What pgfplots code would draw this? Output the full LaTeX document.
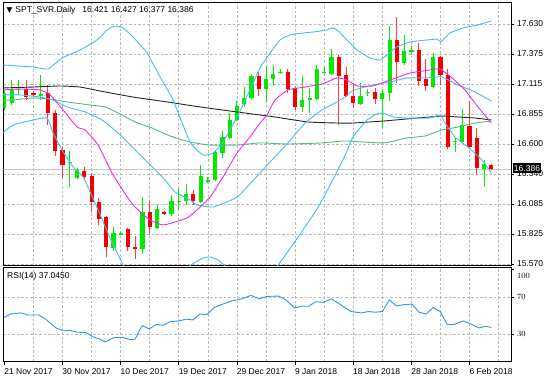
\documentclass[border=0pt]{standalone}
\usepackage{pgfplots}
\usepackage{pgfplotstable}
\pgfplotsset{compat=1.18}
\usepackage{fontspec}
\setmainfont{Liberation Sans}
\newfontfamily\djv{DejaVu Sans}

\definecolor{bull}{RGB}{0,235,0}
\definecolor{bear}{RGB}{245,0,0}
\definecolor{bband}{RGB}{70,190,240}
\definecolor{mag}{RGB}{240,40,240}
\definecolor{maG}{RGB}{90,185,125}
\definecolor{rsic}{RGB}{50,150,240}
\definecolor{gridc}{RGB}{185,185,185}

% candles: index open high low close
\pgfplotstableread{
i o h l c
0 16.909 17.064 16.892 17.038
1 16.955 17.149 16.935 17.070
2 17.064 17.149 17.021 17.076
5 17.016 17.192 16.978 17.029
9 16.433 16.540 16.231 16.446
10 16.306 16.390 16.300 16.377
15 15.705 15.885 15.684 15.839
16 15.822 15.845 15.815 15.839
19 15.699 16.143 15.656 16.019
21 15.877 16.077 15.868 16.040
23 15.999 16.162 15.985 16.111
24 16.102 16.220 16.034 16.113
25 16.111 16.254 16.077 16.171
27 16.105 16.420 16.091 16.321
28 16.271 16.319 16.265 16.291
29 16.287 16.549 16.283 16.527
30 16.520 16.712 16.480 16.663
31 16.649 16.869 16.640 16.806
32 16.806 16.972 16.797 16.929
33 16.941 17.092 16.920 16.997
34 16.992 17.201 16.984 17.184
36 17.072 17.270 16.963 17.158
37 17.154 17.278 17.098 17.198
38 17.212 17.240 17.201 17.222
41 16.920 17.184 16.877 16.978
42 16.978 17.078 16.864 16.991
43 16.984 17.278 16.978 17.241
44 17.209 17.257 17.201 17.221
45 17.201 17.413 17.192 17.347
49 16.943 17.121 16.935 17.012
50 17.035 17.076 17.012 17.049
52 16.984 17.064 16.737 17.040
53 17.035 17.617 16.969 17.493
55 17.293 17.536 17.278 17.398
56 17.392 17.441 17.364 17.407
59 17.089 17.384 17.081 17.344
62 16.615 16.663 16.534 16.626
63 16.620 16.898 16.606 16.763
66 16.386 16.463 16.234 16.428
}\bulltab

\pgfplotstableread{
i o h l c
3 17.076 17.149 16.978 17.003
4 17.042 17.051 17.012 17.021
6 17.034 17.106 16.763 16.862
7 16.866 16.892 16.497 16.540
8 16.549 16.574 16.308 16.420
11 16.371 16.405 16.291 16.319
12 16.321 16.349 16.019 16.105
13 16.105 16.134 15.905 15.954
14 15.969 15.982 15.633 15.719
17 15.868 15.882 15.682 15.719
18 15.719 15.810 15.610 15.701
20 16.019 16.111 15.819 15.885
22 16.019 16.025 15.991 15.997
26 16.171 16.205 16.077 16.111
35 17.184 17.227 17.012 17.072
39 17.221 17.240 17.034 17.076
40 17.078 17.098 16.892 16.918
46 17.344 17.360 16.763 17.184
47 17.192 17.261 17.003 17.012
48 17.012 17.121 16.909 16.952
51 17.049 17.078 16.943 16.984
54 17.493 17.690 17.126 17.306
57 17.407 17.467 17.098 17.141
58 17.158 17.330 17.055 17.098
60 17.344 17.355 17.106 17.188
61 17.192 17.241 16.555 16.574
64 16.755 16.972 16.555 16.572
65 16.654 16.735 16.334 16.392
67 16.421 16.427 16.377 16.386
}\beartab

\pgfplotstableread{
i v
-0.15 17.278
3.95 17.261
6.01 17.244
7.94 17.338
10.41 17.407
12.75 17.493
14.13 17.579
15.23 17.613
16.33 17.596
17.70 17.518
19.63 17.381
21.42 17.175
23.20 16.978
25.54 16.617
27.33 16.506
28.71 16.523
30.08 16.617
32.01 16.832
33.80 17.064
35.17 17.252
36.55 17.381
37.92 17.493
39.30 17.536
41.09 17.553
42.46 17.561
44.39 17.579
45.08 17.596
45.76 17.579
47.14 17.493
48.51 17.407
50.30 17.338
51.68 17.321
52.64 17.364
54.02 17.433
55.80 17.476
58.14 17.493
59.50 17.500
60.10 17.480
61.31 17.553
63.10 17.596
65.02 17.621
67.00 17.656
}\bbup

\pgfplotstableread{
i v
-0.15 17.021
2.16 17.021
4.91 17.003
6.70 16.978
8.62 16.918
11.10 16.875
13.44 16.806
15.64 16.694
17.98 16.549
20.32 16.403
22.11 16.291
23.48 16.188
25.54 16.120
26.51 16.077
28.71 16.059
32.01 16.145
35.17 16.351
36.82 16.463
39.02 16.609
41.36 16.780
43.70 16.892
45.49 16.952
46.86 17.003
47.96 17.060
50.71 17.106
53.05 17.132
55.39 17.167
57.87 17.167
60.21 17.175
62.41 17.106
64.75 17.046
67.00 16.969
}\bbmid

\pgfplotstableread{
i v
-0.15 16.700
1.20 16.763
3.95 16.806
5.87 16.823
6.70 16.694
7.94 16.549
9.45 16.403
10.83 16.317
11.79 16.190
13.20 15.990
14.54 15.793
16.33 15.562
17.50 15.400
19.50 15.300
22.00 15.350
24.50 15.500
25.54 15.557
27.33 15.622
28.30 15.630
29.50 15.600
30.20 15.560
31.50 15.450
33.50 15.350
35.50 15.380
37.00 15.500
37.68 15.562
40.40 15.800
43.00 16.040
45.00 16.270
46.86 16.500
47.96 16.660
49.89 16.806
51.27 16.858
52.09 16.866
53.47 16.832
55.39 16.823
58.56 16.823
59.93 16.849
60.62 16.780
62.00 16.660
63.78 16.574
65.71 16.463
67.00 16.351
}\bblow

\pgfplotstableread{
i v
-0.15 17.064
2.16 17.072
4.91 17.064
6.29 17.021
8.07 16.892
10.00 16.746
11.11 16.720
12.89 16.591
14.95 16.334
17.70 16.077
20.04 15.948
21.83 15.905
23.48 15.931
25.13 15.965
26.51 16.034
28.30 16.145
30.08 16.317
32.01 16.523
33.80 16.660
35.17 16.780
36.13 16.849
37.23 16.978
39.02 17.064
41.36 17.089
43.70 17.115
45.76 17.167
47.14 17.149
48.51 17.098
50.71 17.098
53.05 17.149
55.80 17.209
58.56 17.235
59.93 17.244
61.58 17.167
63.37 17.064
65.16 16.918
67.00 16.780
}\magtab

\pgfplotstableread{
i v
-0.15 17.081
3.95 17.089
7.66 17.098
10.41 17.089
13.16 17.055
17.70 17.003
22.38 16.961
26.92 16.918
32.01 16.875
35.17 16.849
37.23 16.832
41.77 16.789
45.90 16.780
47.96 16.780
52.09 16.797
55.39 16.815
58.56 16.832
60.21 16.840
62.41 16.832
64.75 16.823
67.00 16.806
}\blacktab

\pgfplotstableread{
i v
-0.15 16.975
1.20 16.978
3.95 16.995
6.29 16.986
8.62 16.961
11.79 16.935
13.85 16.918
15.64 16.866
17.98 16.789
20.32 16.737
22.79 16.669
25.54 16.617
28.30 16.591
32.01 16.591
35.17 16.609
39.02 16.600
43.70 16.609
46.86 16.626
52.09 16.609
55.39 16.652
57.87 16.669
60.21 16.720
62.41 16.746
64.75 16.780
67.00 16.797
}\greentab

\pgfplotstableread{
i v
0 47.95
0.86 51.75
2.30 52.89
3.27 50.61
4.72 50.61
5.68 46.05
7.13 36.54
8.09 33.50
9.06 33.88
10.02 31.98
11.23 31.60
12.19 27.04
13.16 24.37
13.88 21.33
15.09 26.27
16.29 26.27
17.26 24.00
17.98 24.37
18.95 39.20
19.91 35.40
20.88 40.34
21.84 39.58
22.81 43.39
24.01 44.15
24.98 46.05
25.94 45.29
26.91 51.75
27.87 50.99
28.84 58.59
30.04 62.40
31.25 65.82
32.70 68.10
33.90 71.90
35.11 68.10
36.08 70.76
37.77 71.14
38.73 66.96
39.94 58.21
40.90 60.11
41.87 60.11
42.83 65.06
43.80 64.30
45.00 68.10
46.21 62.02
47.66 54.41
49.10 52.89
50.07 54.41
51.03 53.65
52.00 54.41
52.96 66.96
53.93 60.49
55.13 62.02
56.10 62.40
57.06 53.65
58.03 51.75
58.99 58.59
59.96 54.41
60.92 40.34
61.89 40.34
63.09 44.15
64.06 41.49
65.26 36.54
66.23 38.44
67.00 37.05
}\rsitab

\pgfplotsset{mt/.style={
  scale only axis,
  xmin=-0.15, xmax=69.7,
  axis line style={black, line width=0.8pt},
  grid style={gridc, line width=0.8pt, dash pattern=on 2.5pt off 2pt},
  tick style={black, line width=0.8pt},
  ytick pos=right, yticklabel pos=right,
  tick align=outside, major tick length=3pt,
  ticklabel style={font=\fontsize{8.5}{10}\selectfont},
  yticklabel style={xshift=-0.5pt},
}}

\begin{document}
\begin{tikzpicture}[x=1pt,y=1pt]
\useasboundingbox (0,0) rectangle (550,377);
\fill[white] (0,0) rectangle (550,377);

\begin{axis}[mt,
  at={(3.3pt,111.5pt)}, anchor=south west,
  width=507.7pt, height=263.5pt,
  ymin=15.557, ymax=17.819,
  ytick={17.630,17.3725,17.115,16.8575,16.600,16.3425,16.085,15.8275,15.570},
  yticklabels={17.630,17.375,17.115,16.855,16.600,16.340,16.085,15.825,15.570},
  ymajorgrids,
  xtick={4,8,...,68}, xticklabels={}, xmajorgrids,
  x tick style={draw=none},
]
\addplot[gray!45, line width=0.8pt, forget plot] coordinates {(-0.15,16.386) (69.7,16.386)};
% wicks
\addplot[draw=none, mark=none, forget plot,
  error bars/.cd, y dir=plus, y explicit, error mark=none,
  error bar style={draw=bull, line width=1pt}]
  table[x=i, y=l, y error plus expr=\thisrow{h}-\thisrow{l}] {\bulltab};
\addplot[draw=none, mark=none, forget plot,
  error bars/.cd, y dir=plus, y explicit, error mark=none,
  error bar style={draw=bear!75, line width=1pt}]
  table[x=i, y=l, y error plus expr=\thisrow{h}-\thisrow{l}] {\beartab};
% bodies
\addplot[draw=none, mark=none, forget plot,
  error bars/.cd, y dir=plus, y explicit, error mark=none,
  error bar style={draw=bull, line width=4.2pt}]
  table[x=i, y=o, y error plus expr=\thisrow{c}-\thisrow{o}] {\bulltab};
\addplot[draw=none, mark=none, forget plot,
  error bars/.cd, y dir=plus, y explicit, error mark=none,
  error bar style={draw=bear, line width=4.2pt}]
  table[x=i, y=c, y error plus expr=\thisrow{o}-\thisrow{c}] {\beartab};
% indicators
\addplot[maG, line width=0.9pt, smooth, tension=0.3] table[x=i,y=v] {\greentab};
\addplot[black!85, line width=0.9pt, smooth, tension=0.3] table[x=i,y=v] {\blacktab};
\addplot[bband, line width=0.9pt, smooth, tension=0.3] table[x=i,y=v] {\bbup};
\addplot[bband, line width=0.9pt, smooth, tension=0.3] table[x=i,y=v] {\bbmid};
\addplot[bband, line width=0.9pt, smooth, tension=0.3] table[x=i,y=v] {\bblow};
\addplot[mag, line width=0.9pt, smooth, tension=0.3] table[x=i,y=v] {\magtab};
\coordinate (pl) at (axis cs:69.7,16.386);
\end{axis}

\node[fill=black, text=white, anchor=west, inner sep=1.3pt, minimum height=10pt,
  font=\fontsize{8.5}{10}\selectfont] at ([xshift=1.5pt,yshift=0.5pt]pl) {16.386};

\node[anchor=west, inner sep=0pt, font=\fontsize{8.5}{10}\selectfont] at (6.5,366.3)
  {{\djv\fontsize{7.5}{7.5}\selectfont ▼}\hspace{3pt}SPT\_SVR.Daily\hspace{7pt}16.421 16.427 16.377 16.386};

\begin{axis}[mt,
  at={(3.3pt,15.3pt)}, anchor=south west,
  width=507.7pt, height=94pt,
  ymin=0, ymax=101.9,
  ytick={30,70}, ymajorgrids,
  extra y ticks={100}, extra y tick style={ymajorgrids=false, yticklabel style={anchor=north west}},
  xtick={0,8,...,64},
  xticklabels={21 Nov 2017,30 Nov 2017,10 Dec 2017,19 Dec 2017,29 Dec 2017,9 Jan 2018,18 Jan 2018,28 Jan 2018,6 Feb 2018},
  xtick pos=lower,
  xticklabel style={anchor=north west, xshift=-3.6pt, yshift=0pt},
  minor xtick={4,8,...,68}, xminorgrids, minor tick length=0pt,
]
\addplot[rsic, line width=0.9pt] table[x=i,y=v] {\rsitab};
\end{axis}
\node[anchor=west, inner sep=0pt, font=\fontsize{8.5}{10}\selectfont] at (7,100.5) {RSI(14) 37.0450};
\end{tikzpicture}
\end{document}
